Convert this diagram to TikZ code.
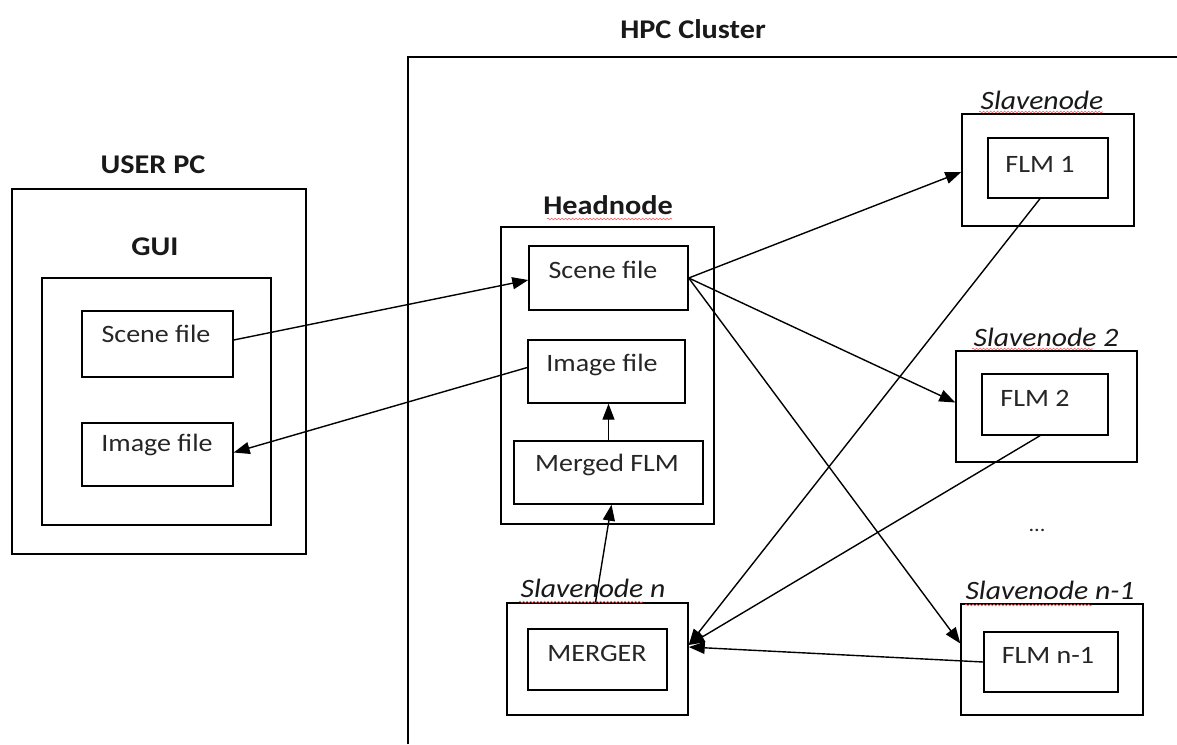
\documentclass[tikz,border=0pt]{standalone}
\usepackage{fontspec}
\setmainfont{Carlito}[FakeStretch=1.12]
\usetikzlibrary{arrows.meta,calc,decorations.pathmorphing}
\tikzset{
  box/.style={draw=black, line width=1.4pt, inner sep=0pt, fill=none},
  txt/.style={inner sep=0pt, text=black!85, font=\fontsize{25}{29}\selectfont},
  ttl/.style={inner sep=0pt, text=black!90, font=\fontsize{27}{31}\selectfont\bfseries},
  itl/.style={inner sep=0pt, text=black!90, font=\fontsize{26.5}{30}\selectfont\itshape},
  conn/.style={draw=black, line width=1.4pt, -{Triangle[length=16pt,width=12pt]}},
  squiggle/.style={draw=red!65, line width=0.6pt, decorate, decoration={snake, amplitude=0.9pt, segment length=3.5pt}}
}
\begin{document}
\begin{tikzpicture}[x=1pt,y=-1pt]
\useasboundingbox (0,0) rectangle (1177,744);
\fill[white] (0,0) rectangle (1177,744);

% ---- USER PC
\node[ttl] (userpc) at (153,165) {USER PC};
\node[box, minimum width=294pt, minimum height=365pt] (pc) at (159,371.5) {};
\node[ttl] (guilab) at (155,247) {GUI};
\node[box, minimum width=229pt, minimum height=247pt] (gui) at (156.5,401.5) {};
\node[box, minimum width=151pt, minimum height=66pt] (gsf) at (157.5,344) {};
\node[txt] (gsft) at (156,334) {Scene file};
\node[box, minimum width=151pt, minimum height=63pt] (gif) at (157.5,454.5) {};
\node[txt] (gift) at (157,445) {Image file};

% ---- HPC cluster
\node[ttl] (hpclab) at (693,29) {HPC Cluster};
\coordinate (hpcbl) at (408,744);
\coordinate (hpctl) at (408,57);
\coordinate (hpctr) at (1177,57);
\draw[line width=1.4pt] (hpcbl) -- (hpctl) -- (hpctr);

% ---- Headnode
\node[ttl] (headlab) at (608,205) {Headnode};
\node[box, minimum width=213pt, minimum height=297pt] (head) at (607.5,375.5) {};
\node[box, minimum width=159pt, minimum height=64pt] (hsf) at (608.5,278) {};
\node[txt] (hsft) at (603,270) {Scene file};
\node[box, minimum width=157pt, minimum height=63pt] (hif) at (606.5,371.5) {};
\node[txt] (hift) at (602,365) {Image file};
\node[box, minimum width=189pt, minimum height=63pt] (mflm) at (608.5,472.5) {};
\node[txt] (mflmt) at (607,465) {Merged FLM};

% ---- Slavenode 1
\node[itl] (sn1lab) at (1042,100) {Slavenode};
\node[box, minimum width=172pt, minimum height=112pt] (sn1) at (1048,170) {};
\node[box, minimum width=120pt, minimum height=60pt] (flm1) at (1048,168) {};
\node[txt] (flm1t) at (1040,164) {FLM 1};

% ---- Slavenode 2
\node[itl] (sn2lab) at (1046,337) {Slavenode 2};
\node[box, minimum width=181pt, minimum height=111pt] (sn2) at (1046.5,406.5) {};
\node[box, minimum width=126pt, minimum height=61pt] (flm2) at (1045,404.5) {};
\node[txt] (flm2t) at (1035,398) {FLM 2};

% ---- dots
\node[txt, font=\fontsize{20}{22}\selectfont] (dots) at (1037,530) {...};

% ---- Slavenode n-1
\node[itl] (snmlab) at (1050,590) {Slavenode n-1};
\node[box, minimum width=182pt, minimum height=111pt] (snm) at (1052,659.5) {};
\node[box, minimum width=134pt, minimum height=60pt] (flmm) at (1051,662) {};
\node[txt] (flmmt) at (1048,655) {FLM n-1};

% ---- Slavenode n
\node[itl] (snnlab) at (593,588) {Slavenode n};
\node[box, minimum width=181pt, minimum height=112pt] (snn) at (597.5,659) {};
\node[box, minimum width=139pt, minimum height=61pt] (merger) at (597.5,659.5) {};
\node[txt] (mergert) at (597,653) {MERGER};

% ---- spell-check squiggles
\draw[squiggle] (547,219) -- (672,219);
\draw[squiggle] (979,112) -- (1103,112);
\draw[squiggle] (972,349) -- (1093,349);
\draw[squiggle] (519,602) -- (643,602);
\draw[squiggle] (965,605) -- (1092,605);

% ---- connectors
\draw[conn] ([yshift=4pt]gsf.east) -- ([yshift=-2pt]hsf.west);
\draw[conn] ([yshift=4pt]hif.west) -- ([yshift=2pt]gif.east);
\draw[conn] (mflm.north) -- (mflm.north |- hif.south);
\draw[conn] ([xshift=-2pt]snn.north) -- ([xshift=3pt]mflm.south);
\draw[conn] (hsf.east) -- ([yshift=-2pt]sn1.west);
\draw[conn] (hsf.east) -- ([yshift=4pt]sn2.west);
\draw[conn] (hsf.east) -- ([yshift=16pt]snm.west);
\draw[conn] ([xshift=-8pt]flm1.south) -- ([yshift=14pt]snn.east);
\draw[conn] ([xshift=-5pt]flm2.south) -- ([yshift=14pt]snn.east);
\draw[conn] (flmm.west) -- ([yshift=12pt]snn.east);
\end{tikzpicture}
\end{document}
